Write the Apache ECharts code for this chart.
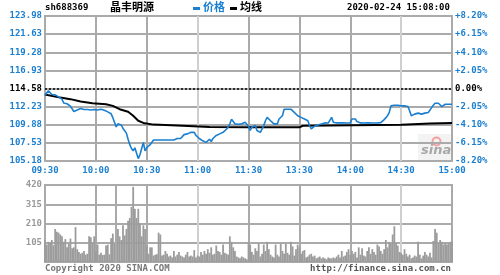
<!DOCTYPE html>
<html><head><meta charset="utf-8">
<script src="https://cdn.jsdelivr.net/npm/echarts@6/dist/echarts.min.js"></script>
<style>html,body{margin:0;padding:0;background:#fff}#c{width:500px;height:275px}</style>
</head><body><div id="c"></div>
<script>
var preClose = 114.58;
var timeLabels = ['09:30','10:00','10:30','11:00','11:30','13:30','14:00','14:30','15:00'];
var leftTicks = ['105.18','107.53','109.88','112.23','114.58','116.93','119.28','121.63','123.98'];
var pctTicks = ['-8.20%','-6.15%','-4.10%','-2.05%','0.00%','+2.05%','+4.10%','+6.15%','+8.20%'];
var volTicks = ['','105','210','315','420'];
// price per minute (0 = 09:30, 120 = 11:30/13:00, 240 = 15:00)
var prices = [
113.7,113.9,114.3,114.2,113.8,113.85,113.75,113.8,113.5,113.3,
113.2,112.7,112.8,112.6,112.55,112.3,112.2,111.6,111.5,111.8,
111.9,112.0,111.9,111.85,111.8,111.85,111.95,111.8,111.7,111.85,
112.0,111.8,111.85,111.9,111.7,111.75,111.6,111.55,111.5,111.3,
110.8,110.2,109.6,110.0,109.9,109.85,109.4,109.1,108.8,108.0,
107.3,106.8,106.5,106.9,106.2,105.5,106.0,106.8,107.6,106.5,
106.9,107.0,107.3,107.5,107.9,107.9,107.9,107.95,107.9,107.9,
107.9,107.95,107.9,107.9,107.9,107.95,107.9,107.9,108.1,108.3,
108.1,108.2,108.6,108.5,108.7,108.75,108.9,108.7,108.9,108.5,
108.3,108.1,108.0,107.8,107.7,107.6,107.8,108.0,107.7,108.1,
108.3,108.5,108.65,108.7,108.8,108.9,109.0,109.3,109.6,110.0,
110.6,110.3,110.0,109.9,109.95,110.0,110.0,110.1,110.2,110.0,
109.7,109.14,109.56,109.35,109.78,109.14,109.35,108.9,109.35,109.78,
110.4,110.84,111.05,110.4,110.2,109.99,110.2,109.99,110.63,110.84,
111.05,111.9,112.1,111.9,111.69,111.9,111.69,111.48,111.26,111.05,
111.26,110.84,111.05,110.63,110.84,110.4,109.78,109.35,109.56,109.69,
109.86,109.86,109.95,109.99,110.08,110.12,110.12,110.1,110.12,110.84,
110.2,110.12,110.12,110.1,110.12,110.12,110.15,110.12,110.1,110.12,
110.12,110.63,110.84,110.63,110.29,110.15,110.12,110.12,110.1,110.12,
110.15,110.29,110.12,110.12,110.1,110.12,110.12,110.12,110.15,110.2,
110.55,110.8,111.05,111.48,112.33,112.4,112.41,112.38,112.41,112.35,
112.33,112.3,112.33,112.28,112.24,111.69,111.05,111.14,111.26,111.48,
111.39,111.26,111.26,111.35,111.39,111.45,111.48,111.56,112.1,112.41,
112.67,112.84,112.67,112.54,112.24,112.41,112.54,112.54,112.54,112.54,112.54];
var avgMinutes = [0,9,15,21,28,36,40,44,49,52,55,58,64,78,97,120,150,152,210,227,240];
var avgPrices = [113.8,113.4,113.2,112.9,112.67,112.54,112.33,111.9,111.56,111.05,110.4,110.12,109.9,109.78,109.6,109.55,109.55,109.75,109.88,110.05,110.1];
var volumes = [
118,95,110,103,120,92,180,165,160,150,
140,110,125,80,100,128,75,80,190,70,
55,45,50,60,40,45,140,135,100,140,
60,95,40,50,38,40,90,95,42,130,
155,100,90,180,140,120,200,145,180,225,
240,300,410,290,240,290,210,140,200,180,
90,45,80,80,35,40,42,160,150,35,
40,60,45,30,35,25,60,30,40,55,
35,30,25,40,55,30,35,30,65,25,
35,30,55,40,60,45,70,50,80,40,
45,90,60,55,40,95,50,45,40,140,
110,80,60,30,25,20,30,25,20,15,
110,95,55,40,75,60,100,30,45,95,
60,110,70,40,30,25,95,40,30,100,
60,45,100,50,40,110,85,35,70,95,
80,45,60,65,25,30,40,45,30,35,
20,25,30,20,25,20,15,25,20,20,
25,20,30,40,25,60,30,35,55,70,
40,60,45,55,25,80,40,75,35,30,
60,80,45,70,55,40,95,85,60,45,
70,120,80,110,100,150,195,105,90,55,
50,40,70,45,30,40,20,25,35,30,
110,40,20,35,55,40,30,50,25,115,
180,160,100,120,110,95,105,95,100,110,115];

var BLUE = '#1a7fd0', RED = '#ff0000', GRID = '#aaaaaa', LIGHT = '#cfcfcf';
var MONO = '"DejaVu Sans Mono", "Liberation Mono", monospace';
function pct(p){ return (p / preClose - 1) * 100; }
function tickIdx(v){ return Math.round((v + 8.2) / 2.05); }
function tickColor(v){ var i = tickIdx(v); return i > 4 ? RED : (i === 4 ? '#000' : BLUE); }
var vColors = [GRID,GRID,GRID,LIGHT,GRID,GRID,GRID,LIGHT,GRID];

var chart = echarts.init(document.getElementById('c'), null, {renderer:'canvas'});
chart.setOption({
  animation:false,
  backgroundColor:'#fff',
  grid:[
    {left:45, right:48, top:16, height:145, show:true, borderColor:GRID, borderWidth:2},
    {left:45, right:48, top:185, height:77, show:true, borderColor:GRID, borderWidth:2}
  ],
  xAxis:[
    {type:'value', gridIndex:0, min:0, max:240, interval:30,
     axisLine:{show:false}, axisTick:{show:false},
     splitLine:{show:true, lineStyle:{color:vColors, width:2}},
     axisLabel:{margin:5, color:BLUE, fontFamily:MONO, fontWeight:'bold', fontSize:9,
       formatter:function(v){ return timeLabels[Math.round(v/30)] || ''; }}},
    {type:'value', gridIndex:1, min:0, max:240, interval:30,
     axisLine:{show:false}, axisTick:{show:false}, axisLabel:{show:false},
     splitLine:{show:true, lineStyle:{color:vColors, width:2}}}
  ],
  yAxis:[
    {type:'value', gridIndex:0, min:-8.2, max:8.2, interval:2.05, position:'left',
     axisLine:{show:false}, axisTick:{show:false},
     splitLine:{show:true, lineStyle:{color:GRID, width:2}},
     axisLabel:{margin:3, fontFamily:MONO, fontWeight:'bold', fontSize:9,
       color:function(v){ return tickColor(v); },
       formatter:function(v){ return leftTicks[tickIdx(v)]; }}},
    {type:'value', gridIndex:0, min:-8.2, max:8.2, interval:2.05, position:'right',
     axisLine:{show:false}, axisTick:{show:false}, splitLine:{show:false},
     axisLabel:{margin:3, fontFamily:MONO, fontWeight:'bold', fontSize:9,
       color:function(v){ return tickColor(v); },
       formatter:function(v){ return pctTicks[tickIdx(v)]; }}},
    {type:'value', gridIndex:1, min:0, max:420, interval:105,
     axisLine:{show:false}, axisTick:{show:false},
     splitLine:{show:true, lineStyle:{color:GRID, width:2}},
     axisLabel:{margin:3, fontFamily:MONO, fontWeight:'bold', fontSize:9, color:'#999',
       formatter:function(v){ return volTicks[Math.round(v/105)]; }}}
  ],
  series:[
    {type:'bar', xAxisIndex:1, yAxisIndex:2, barWidth:1.8, silent:true,
     itemStyle:{color:'#9c9c9c'},
     data:volumes.map(function(v,i){ return [i,v]; }),
     markLine:{silent:true, symbol:'none', label:{show:false},
       lineStyle:{color:GRID, width:2, type:'solid'}, data:[{xAxis:42}]}},
    {type:'line', xAxisIndex:0, yAxisIndex:0, symbol:'none', silent:true,
     lineStyle:{color:'#000', width:2},
     data:avgMinutes.map(function(m,i){ return [m, pct(avgPrices[i])]; })},
    {type:'line', xAxisIndex:0, yAxisIndex:0, symbol:'none', silent:true,
     lineStyle:{color:BLUE, width:1.6},
     data:prices.map(function(p,i){ return [i, pct(p)]; }),
     markLine:{silent:true, symbol:'none', label:{show:false},
       lineStyle:{color:'#000', width:1.5, type:[2,2]}, data:[{yAxis:0}]}}
  ],
  graphic:[
    {type:'text', left:45, top:3, style:{text:'sh688369', fill:'#000', font:'bold 9px '+MONO}},
    {type:'text', left:110, top:1, style:{text:'晶丰明源', fill:'#000', font:'bold 11px "Noto Sans CJK SC"'}},
    {type:'rect', left:193, top:7, shape:{width:7, height:3}, style:{fill:BLUE}},
    {type:'text', left:203, top:1, style:{text:'价格', fill:BLUE, font:'bold 11px "Noto Sans CJK SC"'}},
    {type:'rect', left:230, top:7, shape:{width:7, height:3}, style:{fill:'#000'}},
    {type:'text', left:240, top:1, style:{text:'均线', fill:'#000', font:'bold 11px "Noto Sans CJK SC"'}},
    {type:'text', left:347, top:3, style:{text:'2020-02-24 15:08:00', fill:'#000', font:'bold 9px '+MONO}},
    {type:'rect', left:418, top:134, shape:{width:33, height:26}, style:{fill:'#f3f3f3'}},
    {type:'circle', left:430, top:135, shape:{r:4}, style:{fill:'none', stroke:'#f2a0a0', lineWidth:2}},
    {type:'text', left:421, top:144, style:{text:'sina', fill:'#a8a8a8', font:'italic bold 13px "DejaVu Sans"'}},
    {type:'text', left:45, top:264, style:{text:'Copyright 2020 SINA.COM', fill:'#777', font:'bold 9px '+MONO}},
    {type:'text', right:49, top:264, style:{text:'http://finance.sina.com.cn', fill:'#555', font:'bold 9px '+MONO}}
  ]
});
</script>
</body></html>
